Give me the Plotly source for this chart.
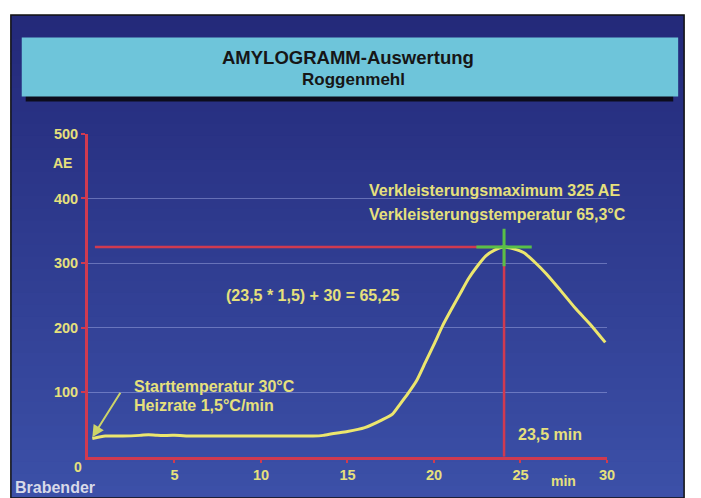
import plotly.graph_objects as go

# ---------------- data ----------------
TIME_MIN = [0.25, 1, 2, 3, 3.5, 4, 5, 6, 7, 8, 9, 10, 11, 12, 13, 13.6, 14.2, 15.0,
            16.0, 17.0, 17.6, 18.0, 18.5, 19.0, 19.5, 20.0, 20.5, 21.0, 21.5, 22.0,
            22.5, 23.0, 23.5, 24.05, 24.6, 25.2, 25.8, 26.5, 27.3, 28.2, 29.1, 29.9]
VISCOSITY_AE = [28, 32, 32, 33, 34, 33, 33, 32, 32, 32, 32, 32, 32, 32, 32, 33, 36, 39,
                45, 57, 66, 80, 98, 118, 146, 174, 203, 228, 252, 276,
                295, 311, 320, 325, 322, 316, 302, 283, 258, 229, 203, 177]

X_TICKS = [5, 10, 15, 20, 25, 30]
Y_TICKS = [100, 200, 300, 400, 500]
PEAK_X = 24.05
PEAK_Y = 325
START_X = 0.25
START_Y = 30

W, H = 701, 498
RED = "#d03a50"
YELLOW = "#ece66e"
TXT = "#e6e07c"
FONT = "Liberation Sans, Arial, sans-serif"


def fx(p):
    return p / W


def fy(p):
    return 1 - p / H


fig = go.Figure()

fig.add_trace(go.Scatter(
    x=TIME_MIN, y=VISCOSITY_AE, mode="lines",
    line=dict(color=YELLOW, width=3, shape="spline", smoothing=0.6),
    hoverinfo="skip", showlegend=False,
))

shapes = []
# frame background gradient (bands)
top, bot = 7, 498
n = 40
c0 = (36, 42, 122)
c1 = (60, 80, 168)
for i in range(n):
    t = i / (n - 1)
    col = tuple(int(c0[k] + (c1[k] - c0[k]) * t) for k in range(3))
    y0 = top + (bot - top) * i / n
    y1 = top + (bot - top) * (i + 1) / n + 1
    shapes.append(dict(type="rect", xref="paper", yref="paper",
                       x0=fx(11), x1=fx(692), y0=fy(y0), y1=fy(min(y1, bot)),
                       fillcolor="rgb(%d,%d,%d)" % col, line=dict(width=0), layer="below"))
# frame border
shapes.append(dict(type="rect", xref="paper", yref="paper",
                   x0=fx(11), x1=fx(692), y0=fy(7), y1=fy(498),
                   fillcolor="rgba(0,0,0,0)", line=dict(color="#111", width=1.5), layer="below"))
# title box shadow + box
shapes.append(dict(type="rect", xref="paper", yref="paper",
                   x0=fx(26), x1=fx(681), y0=fy(86), y1=fy(95),
                   fillcolor="#0c0c1c", line=dict(width=0), layer="below"))
shapes.append(dict(type="rect", xref="paper", yref="paper",
                   x0=fx(22), x1=fx(686), y0=fy(30), y1=fy(90),
                   fillcolor="#6ec5da", line=dict(width=0), layer="below"))

# red guide lines to peak
shapes.append(dict(type="line", xref="x", yref="y", x0=0.4, x1=PEAK_X, y0=PEAK_Y, y1=PEAK_Y,
                   line=dict(color=RED, width=2.5), layer="between"))
shapes.append(dict(type="line", xref="x", yref="y", x0=PEAK_X, x1=PEAK_X, y0=0, y1=PEAK_Y,
                   line=dict(color=RED, width=2.5), layer="between"))
# green cross at peak
shapes.append(dict(type="line", xref="x", yref="y", x0=PEAK_X - 1.6, x1=PEAK_X + 1.6,
                   y0=PEAK_Y, y1=PEAK_Y, line=dict(color="#58c048", width=3), layer="above"))
shapes.append(dict(type="line", xref="x", yref="y", x0=PEAK_X, x1=PEAK_X,
                   y0=PEAK_Y - 30, y1=PEAK_Y + 28, line=dict(color="#58c048", width=3), layer="above"))


def txt(x, y, s, size=15, color=TXT, xanchor="left", family=FONT):
    return dict(xref="paper", yref="paper", x=fx(x), y=fy(y), text=s, showarrow=False,
                xanchor=xanchor, yanchor="middle",
                font=dict(family=family, size=size, color=color, weight="bold"))


annotations = [
    txt(352, 50, "AMYLOGRAMM-Auswertung", size=18.5, color="#161616", xanchor="center"),
    txt(358, 73, "Roggenmehl", size=17, color="#161616", xanchor="center"),
    txt(52, 158, "AE", size=14),
    txt(73, 466, "0", size=14),
    txt(555, 481, "min", size=14),
    txt(13, 487, "Brabender", size=16, color="#d8dae8"),
    txt(134, 385, "Starttemperatur 30°C", size=16),
    txt(134, 404, "Heizrate 1,5°C/min", size=16),
    txt(227, 292, "(23,5 * 1,5) + 30 = 65,25", size=16),
    txt(371, 185, "Verkleisterungsmaximum 325 AE", size=16),
    txt(371, 210, "Verkleisterungstemperatur 65,3°C", size=16),
    txt(522, 433, "23,5 min", size=16),
    dict(xref="x", yref="y", x=START_X, y=START_Y, ax=29, ay=-46, text="",
         showarrow=True, arrowhead=2, arrowsize=1.2, arrowwidth=2, arrowcolor="#cdd468"),
]

axis_font = dict(family=FONT, size=14.5, color=TXT, weight="bold")

fig.update_layout(
    width=W, height=H,
    margin=dict(l=0, r=0, t=0, b=0),
    paper_bgcolor="white",
    plot_bgcolor="rgba(0,0,0,0)",
    shapes=shapes,
    annotations=annotations,
    showlegend=False,
    xaxis=dict(domain=[fx(89), fx(614)], range=[0, 30], tickvals=X_TICKS,
               showline=True, linecolor=RED, linewidth=3,
               ticks="outside", tickcolor=RED, ticklen=3, tickwidth=2,
               showgrid=False, zeroline=False, tickfont=axis_font, fixedrange=True),
    yaxis=dict(domain=[fy(456), fy(128)], range=[0, 500], tickvals=Y_TICKS,
               showline=True, linecolor=RED, linewidth=3,
               ticks="outside", tickcolor=RED, ticklen=4, tickwidth=2,
               showgrid=True, gridcolor="rgba(170,180,235,0.45)", gridwidth=1,
               zeroline=False, tickfont=axis_font, fixedrange=True),
)

POST = """
document.documentElement.style.margin='0';
document.documentElement.style.overflow='hidden';
document.body.style.margin='0';
document.body.style.padding='0';
document.body.style.overflow='hidden';
var gd=document.getElementById('{plot_id}');
gd.style.position='fixed';
gd.style.left='0px';
gd.style.top='0px';
"""

fig.write_html(
    "out.html",
    config={"displayModeBar": False, "staticPlot": True},
    post_script=POST,
)
